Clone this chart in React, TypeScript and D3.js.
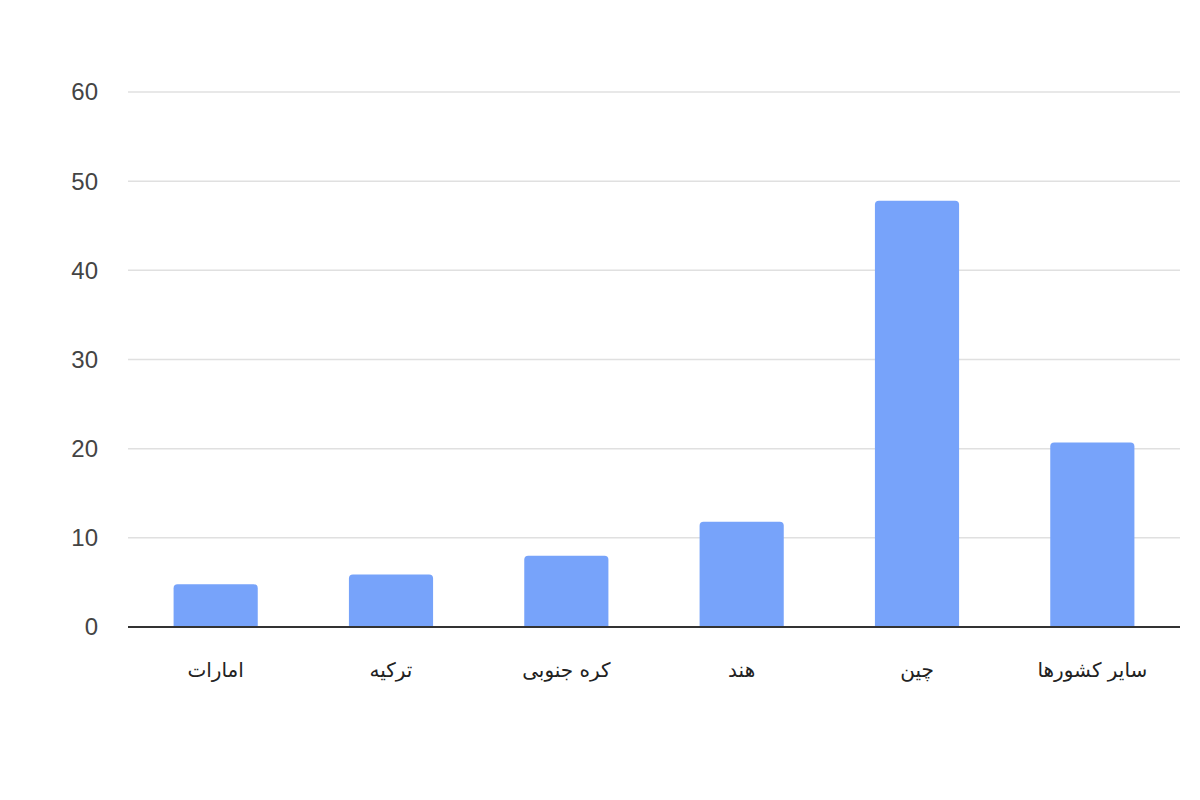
import * as d3 from "d3";
import { useEffect, useRef } from "react";

// categories, left to right as drawn
const categories = ["امارات", "ترکیه", "کره جنوبی", "هند", "چین", "سایر کشورها"];
const values = [4.8, 5.9, 8, 11.8, 47.8, 20.7];
const yTicks = [0, 10, 20, 30, 40, 50, 60];

export default function App() {
  const svgRef = useRef<SVGSVGElement>(null);

  useEffect(() => {
    const W = 1200;
    const H = 800;
    const margin = { top: 92, right: 20, bottom: 173, left: 128 };
    const width = W - margin.left - margin.right;
    const height = H - margin.top - margin.bottom;

    const root = d3.select(svgRef.current);
    root.selectAll("*").remove();

    const svg = root
      .append("g")
      .attr("transform", "translate(" + margin.left + "," + margin.top + ")");

    const x = d3.scaleBand().domain(categories).range([0, width]).paddingInner(0.52).paddingOuter(0.26);
    const y = d3.scaleLinear().domain([0, 60]).range([height, 0]);

    // grid lines
    svg
      .append("g")
      .selectAll("line")
      .data(yTicks.filter((t) => t !== 0))
      .enter()
      .append("line")
      .attr("x1", 0)
      .attr("x2", width)
      .attr("y1", (d) => y(d))
      .attr("y2", (d) => y(d))
      .attr("stroke", "#e0e0e0")
      .attr("stroke-width", 1.5);

    // y tick labels
    svg
      .append("g")
      .selectAll("text")
      .data(yTicks)
      .enter()
      .append("text")
      .attr("x", -30)
      .attr("y", (d) => y(d))
      .attr("dy", "0.35em")
      .attr("text-anchor", "end")
      .style("font-family", "'Liberation Sans', Arial, sans-serif")
      .style("font-size", "24px")
      .style("fill", "#444")
      .text((d) => d);

    // bars, rounded top corners
    const r = 4;
    svg
      .append("g")
      .selectAll("path")
      .data(values)
      .enter()
      .append("path")
      .attr("d", (d, i) => {
        const x0 = x(categories[i])!;
        const x1 = x0 + x.bandwidth();
        const y0 = y(d);
        const yb = y(0);
        return `M${x0},${yb}V${y0 + r}Q${x0},${y0} ${x0 + r},${y0}H${x1 - r}Q${x1},${y0} ${x1},${y0 + r}V${yb}Z`;
      })
      .style("fill", "#77a3fa");

    // baseline
    svg
      .append("line")
      .attr("x1", 0)
      .attr("x2", width)
      .attr("y1", y(0))
      .attr("y2", y(0))
      .attr("stroke", "#333")
      .attr("stroke-width", 2);

    // x labels
    svg
      .append("g")
      .selectAll("text")
      .data(categories)
      .enter()
      .append("text")
      .attr("x", (d) => x(d)! + x.bandwidth() / 2)
      .attr("y", height + 50)
      .attr("text-anchor", "middle")
      .attr("direction", "rtl")
      .style("font-family", "'DejaVu Sans', 'Liberation Sans', sans-serif")
      .style("font-size", "20px")
      .style("fill", "#222")
      .text((d) => d);
  }, []);

  return (
    <svg
      ref={svgRef}
      width={1200}
      height={800}
      style={{ position: "absolute", left: 0, top: 0, background: "#fff" }}
    />
  );
}
